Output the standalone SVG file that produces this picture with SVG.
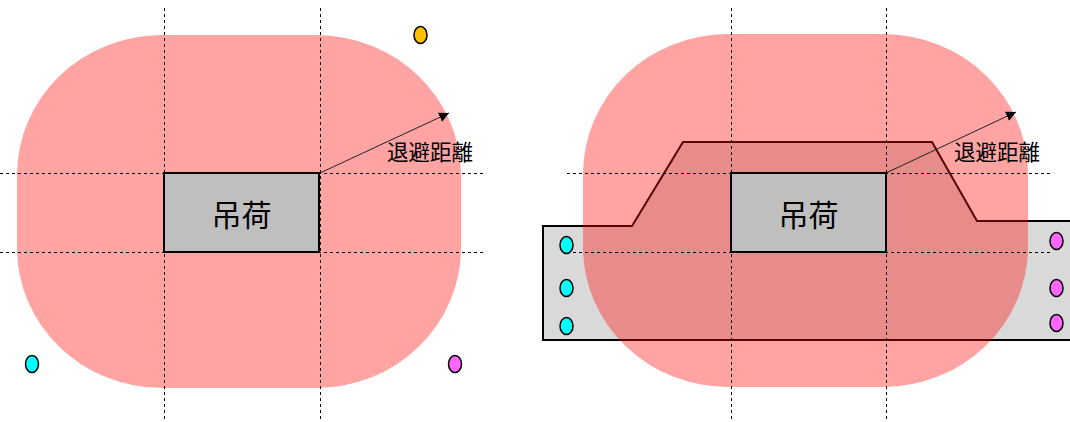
<svg xmlns="http://www.w3.org/2000/svg" width="1070" height="422" viewBox="0 0 1070 422">
<defs>
<marker id="ah" viewBox="0 0 10 10" refX="10" refY="5" markerWidth="10" markerHeight="10" markerUnits="userSpaceOnUse" orient="auto">
<path d="M0,0 L10,5 L0,10 z" fill="#000"/>
</marker>
<style>
.zone{fill:#ff0000;fill-opacity:0.36}
.dash{stroke:#000;stroke-width:1;stroke-dasharray:3 3;fill:none}
.load{fill:#bfbfbf;stroke:#000;stroke-width:2}
.arrow{stroke:#222;stroke-width:1;fill:none;marker-end:url(#ah)}
.lbl{font-family:"Noto Sans CJK JP","Noto Sans CJK SC",sans-serif;fill:#000}
.dot{stroke:#000;stroke-width:1.5}
.plat{fill:#d9d9d9;stroke:#000;stroke-width:2}
</style>
</defs>
<g id="platform">
<polygon class="plat" points="543,226 632,226 683,142 932,142 977,221 1072,221 1072,340 543,340"/>
</g>
<g id="zone-left"><rect class="zone" x="17" y="35" width="444" height="353" rx="145" ry="140"/></g>
<g id="zone-right"><rect class="zone" x="583" y="34" width="445" height="353" rx="145" ry="140"/></g>
<g id="connectors">
<line class="dash" x1="164.5" y1="8" x2="164.5" y2="419"/>
<line class="dash" x1="320.5" y1="8" x2="320.5" y2="419"/>
<line class="dash" x1="0" y1="173.5" x2="485" y2="173.5"/>
<line class="dash" x1="0" y1="252.5" x2="485" y2="252.5"/>
<line class="dash" x1="731.5" y1="8" x2="731.5" y2="422"/>
<line class="dash" x1="886.5" y1="8" x2="886.5" y2="422"/>
<line class="dash" x1="567" y1="173.5" x2="1052" y2="173.5"/>
<line class="dash" x1="573" y1="252.5" x2="1052" y2="252.5"/>
<line class="arrow" x1="320" y1="173" x2="449" y2="113"/>
<line class="arrow" x1="886" y1="173" x2="1016" y2="112"/>
</g>
<g id="load-left">
<rect class="load" x="164" y="173" width="155" height="79"/>
<text class="lbl" x="241.5" y="226" font-size="30" text-anchor="middle">吊荷</text>
</g>
<g id="load-right">
<rect class="load" x="731" y="173" width="155" height="79"/>
<text class="lbl" x="808.5" y="226" font-size="30" text-anchor="middle">吊荷</text>
</g>
<g id="label-left"><text class="lbl" x="387" y="160" font-size="21.5">退避距離</text></g>
<g id="label-right"><text class="lbl" x="954" y="160" font-size="21.5">退避距離</text></g>
<g id="dots">
<ellipse class="dot" cx="420.5" cy="35" rx="6.5" ry="8.5" fill="#ffc000"/>
<ellipse class="dot" cx="32" cy="364" rx="6.5" ry="8.5" fill="#00ffff"/>
<ellipse class="dot" cx="455" cy="364" rx="6.5" ry="8.5" fill="#ff66ff"/>
<ellipse class="dot" cx="566.5" cy="245" rx="6.5" ry="8.5" fill="#00ffff"/>
<ellipse class="dot" cx="566.5" cy="288" rx="6.5" ry="8.5" fill="#00ffff"/>
<ellipse class="dot" cx="566.5" cy="326" rx="6.5" ry="8.5" fill="#00ffff"/>
<ellipse class="dot" cx="1056.5" cy="241" rx="6.5" ry="8.5" fill="#ff66ff"/>
<ellipse class="dot" cx="1056.5" cy="288" rx="6.5" ry="8.5" fill="#ff66ff"/>
<ellipse class="dot" cx="1056.5" cy="323" rx="6.5" ry="8.5" fill="#ff66ff"/>
</g>
</svg>
